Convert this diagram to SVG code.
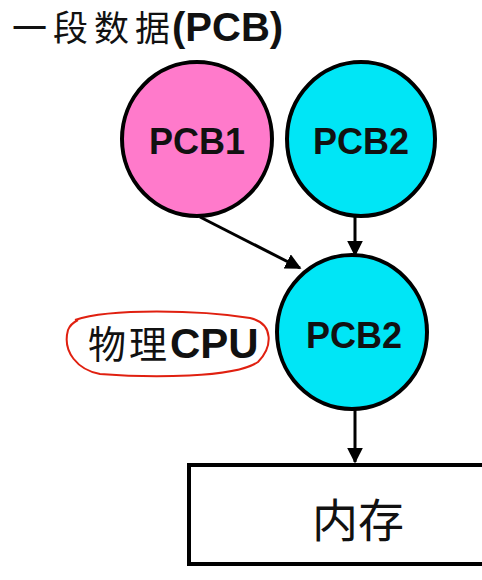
<svg xmlns="http://www.w3.org/2000/svg" width="482" height="580" viewBox="0 0 482 580">
<style>
.node{stroke:#000;stroke-width:4}
.lbl{font-family:"Liberation Sans","Noto Sans CJK SC",sans-serif;font-weight:bold;font-size:36px;fill:#111;text-anchor:middle}
.cjk{font-family:"Noto Sans CJK SC",sans-serif;font-weight:normal}
.edge{stroke:#000;stroke-width:3;fill:none}
</style>
<defs>
<marker id="ah" viewBox="0 0 10 10" refX="9" refY="5" markerWidth="16" markerHeight="16" orient="auto" markerUnits="userSpaceOnUse">
<path d="M0,0 L10,5 L0,10 z" fill="#000"/>
</marker>
</defs>
<rect width="482" height="580" fill="#fff"/>
<text x="12" y="41" style="font-family:'Liberation Sans','Noto Sans CJK SC',sans-serif;font-size:35px;fill:#111"><tspan class="cjk" letter-spacing="6">一段数据</tspan><tspan font-weight="bold" font-size="40" dx="-4">(PCB)</tspan></text>
<g id="edges">
<line class="edge" x1="200" y1="217" x2="300" y2="268" marker-end="url(#ah)"/>
<line class="edge" x1="355" y1="217" x2="355" y2="255" marker-end="url(#ah)"/>
<line class="edge" x1="355" y1="410" x2="355" y2="462" stroke-width="4" marker-end="url(#ah)"/>
</g>
<g id="pcb1">
<ellipse class="node" cx="197" cy="139" rx="75" ry="77" fill="#ff7acb"/>
<text class="lbl" x="197" y="154">PCB1</text>
</g>
<g id="pcb2-top">
<ellipse class="node" cx="361" cy="139" rx="74" ry="77" fill="#00e6f6"/>
<text class="lbl" x="361" y="154">PCB2</text>
</g>
<g id="pcb2-cpu">
<ellipse class="node" cx="352" cy="332" rx="75" ry="77" fill="#00e6f6" stroke-width="5"/>
<text class="lbl" x="354" y="348">PCB2</text>
</g>
<g id="cpu-label">
<path d="M75,320 C110,308 200,310 250,318 C275,324 272,348 258,362 C235,378 150,378 100,374 C78,370 62,352 68,330 C70,325 74,322 78,320" fill="none" stroke="#e02010" stroke-width="2"/>
<text x="88" y="358" style="font-family:'Liberation Sans','Noto Sans CJK SC',sans-serif;font-size:38px;fill:#111"><tspan class="cjk" letter-spacing="3">物理</tspan><tspan font-weight="bold" font-size="42">CPU</tspan></text>
</g>
<g id="memory">
<rect x="189" y="465" width="300" height="99" fill="#fff" stroke="#000" stroke-width="4"/>
<text x="358" y="537" text-anchor="middle" style="font-family:'Noto Sans CJK SC',sans-serif;font-size:46px;fill:#111">内存</text>
</g>
</svg>
